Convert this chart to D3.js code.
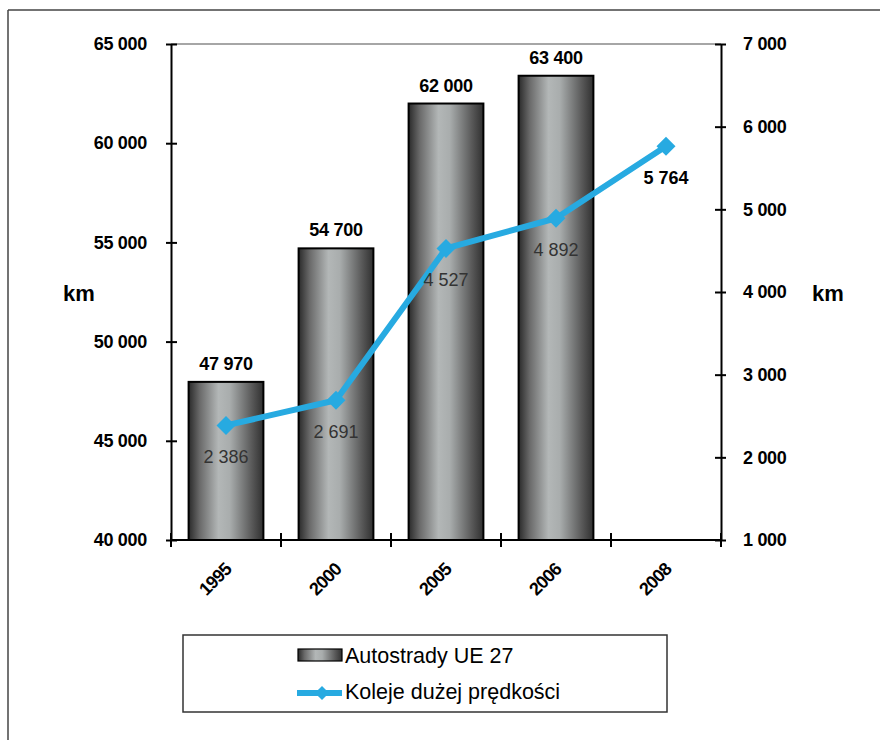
<!DOCTYPE html>
<html><head><meta charset="utf-8">
<script src="https://cdn.jsdelivr.net/npm/d3@7"></script>
<style>
html,body{margin:0;padding:0;background:#fff;}
svg{display:block;font-family:"Liberation Sans",Arial,sans-serif;}
</style></head>
<body>
<svg id="chart" width="880" height="740"></svg>
<script>
const years = ["1995","2000","2005","2006","2008"];
const highways = [47970, 54700, 62000, 63400, null];
const rail = [2386, 2691, 4527, 4892, 5764];
const leftTicks = [40000, 45000, 50000, 55000, 60000, 65000];
const rightTicks = [1000, 2000, 3000, 4000, 5000, 6000, 7000];
const seriesNames = ["Autostrady UE 27", "Koleje dużej prędkości"];
const unitLabel = "km";

const svg = d3.select("#chart");
const fmt = d3.formatLocale({decimal:",", thousands:" ", grouping:[3], currency:["",""]}).format(",d");

const L = 171, R = 721, T = 44, B = 540;
const x = d3.scaleBand().domain(years).range([L, R]).paddingInner(0.32).paddingOuter(0.16);
const yL = d3.scaleLinear().domain([40000, 65000]).range([B, T]);
const yR = d3.scaleLinear().domain([1000, 7000]).range([B, T]);
const blue = "#27aae1";

// outer frame
svg.append("line").attr("x1",8).attr("y1",10).attr("x2",880).attr("y2",10).attr("stroke","#444").attr("stroke-width",1.5);
svg.append("line").attr("x1",8).attr("y1",10).attr("x2",8).attr("y2",740).attr("stroke","#444").attr("stroke-width",1.5);

// gradient
const defs = svg.append("defs");
const g = defs.append("linearGradient").attr("id","barGrad").attr("x1","0").attr("x2","1").attr("y1","0").attr("y2","0");
[[0,"#2a2a2a"],[0.15,"#6a6a6a"],[0.4,"#b3b7b7"],[0.55,"#a9adad"],[0.85,"#585858"],[1,"#303030"]]
  .forEach(([o,c]) => g.append("stop").attr("offset",o).attr("stop-color",c));

// plot top border
svg.append("line").attr("x1",L).attr("x2",R).attr("y1",T).attr("y2",T).attr("stroke","#888").attr("stroke-width",1.5);

// bars
const barData = years.map((y,i)=>({year:y, v:highways[i]})).filter(d=>d.v!=null);
svg.append("g").selectAll("rect").data(barData).join("rect")
  .attr("x", d=>x(d.year)).attr("width", x.bandwidth())
  .attr("y", d=>yL(d.v)).attr("height", d=>B - yL(d.v))
  .attr("fill","url(#barGrad)").attr("stroke","#000").attr("stroke-width",2);

svg.append("g").selectAll("text").data(barData).join("text")
  .attr("x", d=>x(d.year)+x.bandwidth()/2).attr("y", d=>yL(d.v)-12)
  .attr("text-anchor","middle").attr("font-size",18).attr("font-weight","bold").attr("fill","#000")
  .attr("letter-spacing","-0.3")
  .text(d=>fmt(d.v));

// axes
const axisStyle = sel => {
  sel.select(".domain").attr("stroke","#000").attr("stroke-width",2);
  sel.selectAll(".tick line").attr("stroke","#000").attr("stroke-width",2);
  sel.selectAll(".tick text").attr("fill","#000").attr("font-size",18).attr("font-weight","bold")
     .attr("letter-spacing","-0.3")
     .attr("font-family","'Liberation Sans',Arial,sans-serif");
};
const gl = svg.append("g").attr("transform",`translate(${L},0)`)
  .call(d3.axisLeft(yL).tickValues(leftTicks).tickFormat(fmt).tickSize(5).tickSizeOuter(0).tickPadding(19));
axisStyle(gl);
gl.selectAll(".tick line").attr("x1",6);
const gr = svg.append("g").attr("transform",`translate(${R},0)`)
  .call(d3.axisRight(yR).tickValues(rightTicks).tickFormat(fmt).tickSize(5).tickSizeOuter(0).tickPadding(17));
axisStyle(gr);
gr.selectAll(".tick line").attr("x1",-6);

// bottom axis
svg.append("line").attr("x1",L).attr("x2",R).attr("y1",B).attr("y2",B).attr("stroke","#000").attr("stroke-width",2);
const bounds = years.map(y=>x(y) - x.step()*x.paddingInner()/2).concat([R]);
bounds[0] = L;
svg.append("g").selectAll("line").data(bounds).join("line")
  .attr("x1",d=>d).attr("x2",d=>d).attr("y1",B-7).attr("y2",B+7).attr("stroke","#000").attr("stroke-width",2);
svg.append("g").selectAll("text").data(years).join("text")
  .attr("transform", d=>`translate(${x(d)+x.bandwidth()/2+2},566) rotate(-45)`)
  .attr("text-anchor","end").attr("dy","0.35em").attr("font-size",18).attr("font-weight","bold").attr("fill","#000")
  .attr("letter-spacing","-0.8")
  .text(d=>d);

// unit labels
svg.append("text").attr("x",79).attr("y",301).attr("text-anchor","middle").attr("font-size",22).attr("font-weight","bold").text(unitLabel);
svg.append("text").attr("x",828).attr("y",301).attr("text-anchor","middle").attr("font-size",22).attr("font-weight","bold").text(unitLabel);

// line
const railData = years.map((y,i)=>({year:y, v:rail[i], i}));
const cx = d=>x(d.year)+x.bandwidth()/2;
svg.append("path").datum(railData)
  .attr("d", d3.line().x(cx).y(d=>yR(d.v)))
  .attr("fill","none").attr("stroke",blue).attr("stroke-width",6).attr("stroke-linejoin","round");
const diamond = d3.symbol().type(d3.symbolSquare).size(180);
svg.append("g").selectAll("path").data(railData).join("path")
  .attr("transform", d=>`translate(${cx(d)},${yR(d.v)}) rotate(45)`)
  .attr("d", diamond()).attr("fill",blue);
svg.append("g").selectAll("text").data(railData).join("text")
  .attr("x", cx).attr("y", d=>yR(d.v)+38)
  .attr("text-anchor","middle").attr("font-size",18)
  .attr("font-weight", d=>d.i===railData.length-1 ? "bold" : "normal")
  .attr("fill", d=>d.i===railData.length-1 ? "#000" : "#333")
  .text(d=>fmt(d.v));

// legend
svg.append("rect").attr("x",183).attr("y",635).attr("width",484).attr("height",77)
  .attr("fill","#fff").attr("stroke","#333").attr("stroke-width",1.5);
svg.append("rect").attr("x",298).attr("y",649).attr("width",44).attr("height",12)
  .attr("fill","url(#barGrad)").attr("stroke","#000").attr("stroke-width",1.2);
svg.append("text").attr("x",345).attr("y",663).attr("font-size",21.5).attr("fill","#000").text(seriesNames[0]);
svg.append("line").attr("x1",297).attr("x2",342).attr("y1",693).attr("y2",693).attr("stroke",blue).attr("stroke-width",6);
svg.append("path").attr("transform","translate(322,693) rotate(45)").attr("d", d3.symbol().type(d3.symbolSquare).size(100)()).attr("fill",blue);
svg.append("text").attr("x",345).attr("y",699).attr("font-size",21.5).attr("fill","#000").text(seriesNames[1]);
</script>
</body></html>
